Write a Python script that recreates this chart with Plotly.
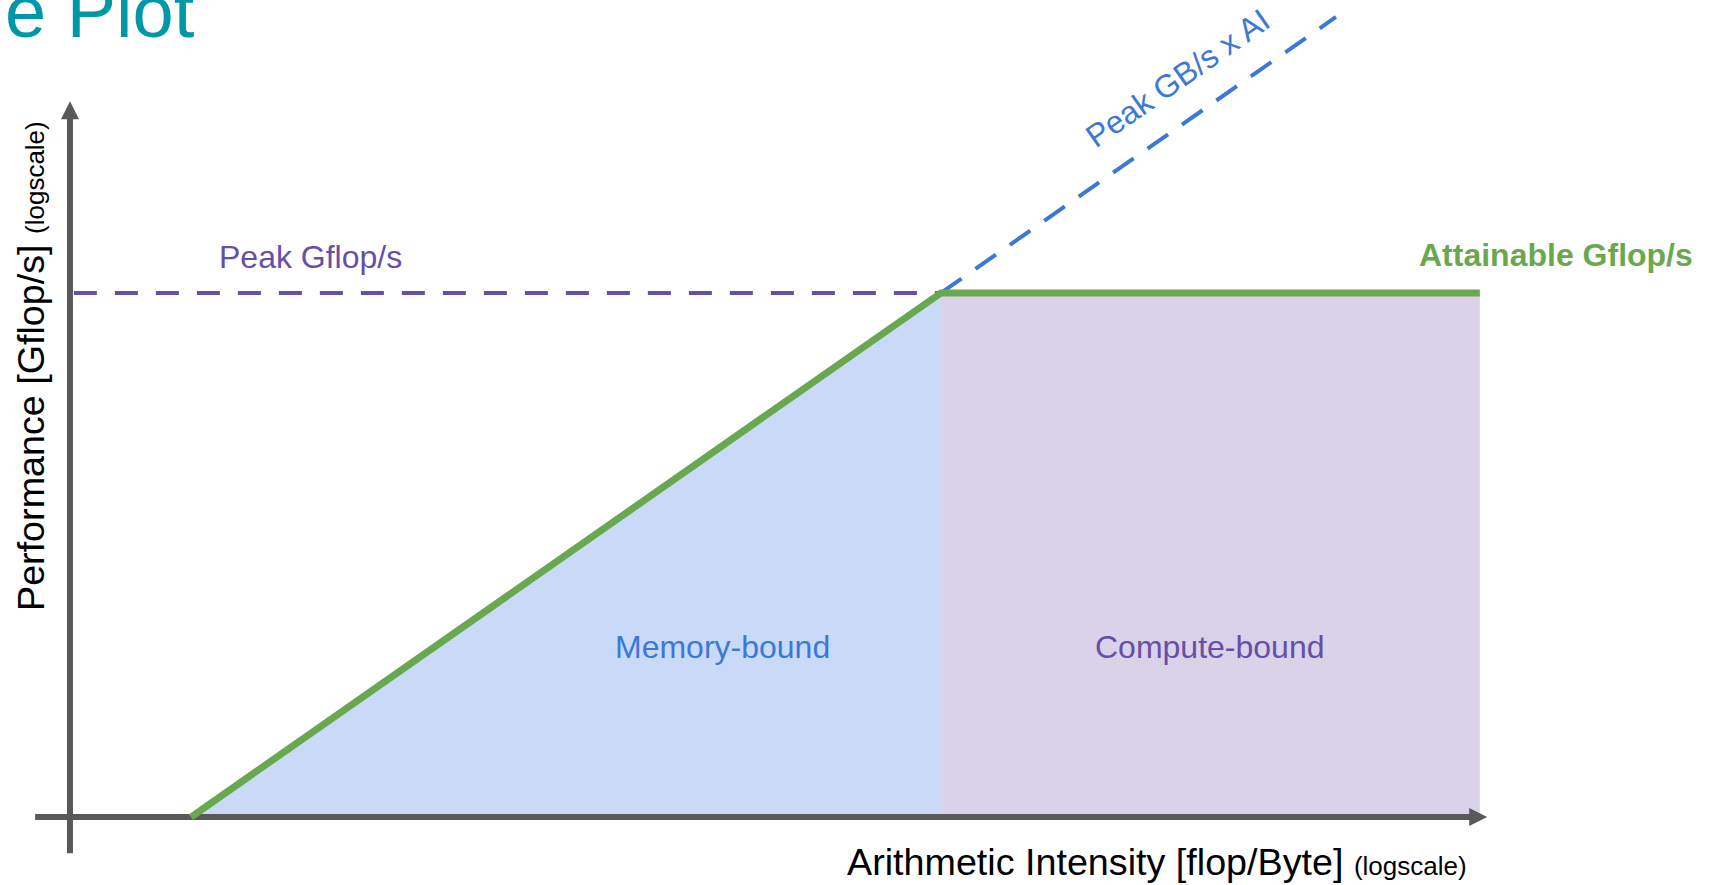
import numpy as np
import plotly.graph_objects as go

# roofline values: intensity in flop/Byte, performance in Gflop/s (log-log)
roof_ai = [0.01, 10, 1430]
roof_perf = [1, 1000, 1000]
peak_ai = [0.0034, 10]
peak_perf = [1000, 1000]
bw_ai = [10, 380]
bw_perf = [1000, 38000]
memory_ai = [0.01, 10, 10, 0.01]
memory_perf = [1, 1000, 1, 1]
compute_ai = [10, 1430, 1430, 10, 10]
compute_perf = [1, 1, 1000, 1000, 1]

# axis extents (drawn as arrows)
xaxis_ai = [0.00238, 1370]
xaxis_tip = 1530
yaxis_perf = [0.62, 10800]
yaxis_tip = 12500
axis_ai = 0.00328

FONT = "Liberation Sans, Arial, sans-serif"
GREEN = "#6aa84f"
PURPLE = "#674ea7"
BLUE = "#3c78d8"
GREY = "#595959"

W, H = 1713, 885

fig = go.Figure()

# shaded regions
fig.add_trace(go.Scatter(x=memory_ai, y=memory_perf, fill="toself", mode="lines",
                         fillcolor="#c9daf8", line=dict(width=0), hoverinfo="skip"))
fig.add_trace(go.Scatter(x=compute_ai, y=compute_perf, fill="toself", mode="lines",
                         fillcolor="#d9d2e9", line=dict(width=0), hoverinfo="skip"))

# peak lines
fig.add_trace(go.Scatter(x=peak_ai, y=peak_perf, mode="lines",
                         line=dict(color=PURPLE, width=4, dash="23px,18px")))
fig.add_trace(go.Scatter(x=bw_ai, y=bw_perf, mode="lines",
                         line=dict(color=BLUE, width=4, dash="25px,17px")))

# axes with arrow heads
fig.add_trace(go.Scatter(x=xaxis_ai, y=[1, 1], mode="lines",
                         line=dict(color=GREY, width=6)))
fig.add_trace(go.Scatter(x=[axis_ai, axis_ai], y=yaxis_perf, mode="lines",
                         line=dict(color=GREY, width=6)))
fig.add_trace(go.Scatter(x=[xaxis_tip], y=[1], mode="markers",
                         marker=dict(symbol="arrow-right", size=18, color=GREY, line_width=0)))
fig.add_trace(go.Scatter(x=[axis_ai], y=[yaxis_tip], mode="markers",
                         marker=dict(symbol="arrow-up", size=18, color=GREY, line_width=0)))

# attainable roof
fig.add_trace(go.Scatter(x=roof_ai, y=roof_perf, mode="lines",
                         line=dict(color=GREEN, width=7)))

fig.add_annotation(x=np.log10(0.03), y=np.log10(peak_perf[0]), text="Peak Gflop/s",
                   showarrow=False, yanchor="bottom", yshift=16,
                   font=dict(size=32, color=PURPLE, family=FONT))
fig.add_annotation(x=np.log10(roof_ai[-1]), y=np.log10(roof_perf[-1]),
                   text="<b>Attainable Gflop/s</b>", showarrow=False,
                   xanchor="left", xshift=-63, yanchor="bottom", yshift=18,
                   font=dict(size=32, color=GREEN, family=FONT))
fig.add_annotation(x=np.log10(88.7), y=np.log10(17000), text="Peak GB/s x AI",
                   showarrow=False, textangle=-34.9,
                   font=dict(size=32, color=BLUE, family=FONT))
fig.add_annotation(x=np.log10(1.34), y=np.log10(9.4), text="Memory-bound",
                   showarrow=False, font=dict(size=32, color=BLUE, family=FONT))
fig.add_annotation(x=np.log10(119), y=np.log10(9.4), text="Compute-bound",
                   showarrow=False, font=dict(size=32, color=PURPLE, family=FONT))

# axis titles and slide title
fig.add_annotation(xref="paper", yref="paper", x=31 / W, y=1 - 366 / H,
                   xanchor="center", yanchor="middle",
                   text="Performance [Gflop/s] <span style='font-size:26px'>(logscale)</span>",
                   textangle=-90, showarrow=False,
                   font=dict(size=37.7, color="black", family=FONT))
fig.add_annotation(xref="paper", yref="paper", x=1469 / W, y=1 - 862 / H,
                   xanchor="right", yanchor="middle",
                   text="Arithmetic Intensity [flop/Byte] <span style='font-size:26px'>(logscale)</span>",
                   showarrow=False, font=dict(size=37.7, color="black", family=FONT))
fig.add_annotation(xref="paper", yref="paper", x=0, y=1 - 55 / H,
                   xanchor="left", yanchor="bottom", xshift=3, text="e Plot",
                   showarrow=False, font=dict(size=74, color="#0097a7", family=FONT))

fig.update_layout(width=W, height=H, showlegend=False,
                  paper_bgcolor="white", plot_bgcolor="white",
                  margin=dict(l=0, r=0, t=0, b=0),
                  xaxis=dict(type="log", range=[-2.764, 4.088], visible=False),
                  yaxis=dict(type="log", range=[-0.389, 4.677], visible=False))

fig.write_html("out.html", config={"displayModeBar": False},
               post_script="document.body.style.margin = '0';")
